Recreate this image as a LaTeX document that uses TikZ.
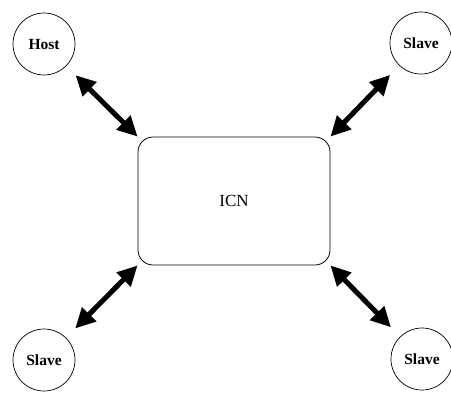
\documentclass[tikz,border=0pt]{standalone}
\usepackage{fontspec}
\setmainfont{Liberation Serif}
\usetikzlibrary{arrows.meta}
\begin{document}
\begin{tikzpicture}[x=1pt,y=-1pt,
  unit/.style={circle,draw,line width=0.7pt,minimum size=62pt,inner sep=0pt,
    font=\bfseries\fontsize{15.5}{17}\selectfont},
  netbox/.style={draw,line width=0.8pt,rounded corners=15pt,minimum width=192pt,
    minimum height=128pt,font=\fontsize{17}{19}\selectfont},
  link/.style={line width=5pt,{Triangle[length=20pt,width=19pt]}-{Triangle[length=20pt,width=19pt]},shorten <=13pt}]
\useasboundingbox (0,0) rectangle (451,392);
\node[netbox] (icn) at (234,201) {ICN};
\node[unit] (host) at (44,44) {Host};
\node[unit] (s1) at (421,43) {Slave};
\node[unit] (s2) at (44,360) {Slave};
\node[unit] (s3) at (422,359) {Slave};
\draw[link] (host) -- (icn.north west);
\draw[link] (s1) -- (icn.north east);
\draw[link] (s2) -- (icn.south west);
\draw[link] (s3) -- (icn.south east);
\end{tikzpicture}
\end{document}
